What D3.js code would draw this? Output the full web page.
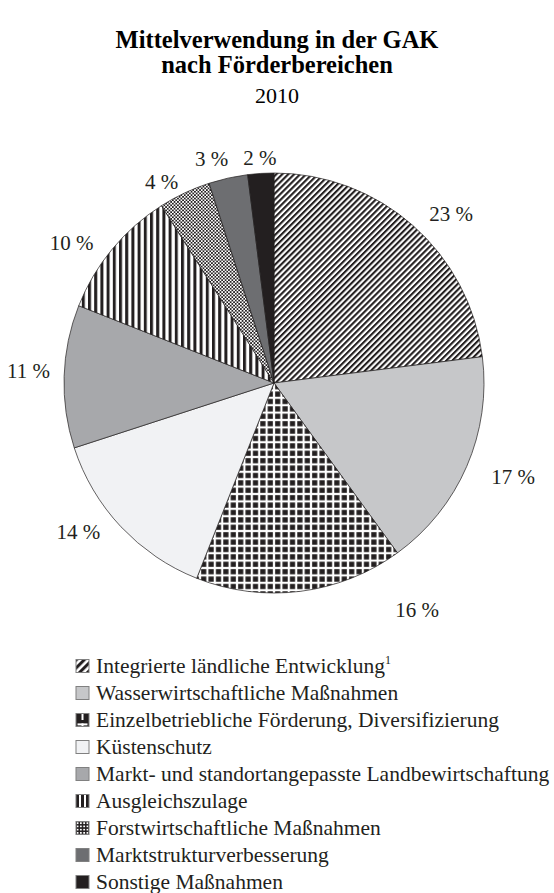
<!DOCTYPE html>
<html>
<head>
<meta charset="utf-8">
<script src="https://cdn.jsdelivr.net/npm/d3@7"></script>
<style>
  body { margin: 0; background: #fff; }
  svg { display: block; font-family: "Liberation Serif", "Times New Roman", serif; }
</style>
</head>
<body>
<script>
// --- data ---
var categories = [
  'Integrierte ländliche Entwicklung',
  'Wasserwirtschaftliche Maßnahmen',
  'Einzelbetriebliche Förderung, Diversifizierung',
  'Küstenschutz',
  'Markt- und standortangepasste Landbewirtschaftung',
  'Ausgleichszulage',
  'Forstwirtschaftliche Maßnahmen',
  'Marktstrukturverbesserung',
  'Sonstige Maßnahmen'
];
var shares = [23, 17, 16, 14, 11, 10, 4, 3, 2];
var footnotes = ['1', '', '', '', '', '', '', '', ''];

// --- styles ---
var sliceFills = ['url(#hatch)', '#c6c7c9', 'url(#grid)', '#f1f2f4', '#a7a8ab',
                  'url(#vstripe)', 'url(#check)', '#6d6e71', '#231f20'];
var iconFills = ['url(#hatchIcon)', '#c6c7c9', 'url(#crossIcon)', '#f1f2f4', '#a7a8ab',
                 'url(#stripeIcon)', 'url(#checkIcon)', '#6d6e71', '#231f20'];
// label nudges: extra angle (deg) and extra distance (px) off the slice middle
var labelNudge = [[5, 0], [-2, 10], [-25, 27], [6, 0], [1, 0], [-5, 0], [-4, -8], [-3, -3], [0, -7]];

var width = 554, height = 893;
var cx = 274, cy = 383, radius = 210;
var ink = '#231f20';

var svg = d3.select('body').append('svg')
    .attr('width', width)
    .attr('height', height);

var defs = svg.append('defs');

var makePattern = function (id, size, transform) {
  var p = defs.append('pattern')
      .attr('id', id)
      .attr('patternUnits', 'userSpaceOnUse')
      .attr('width', size)
      .attr('height', size);
  if (transform) p.attr('patternTransform', transform);
  return p;
};

// pie patterns
var p = makePattern('hatch', 4.2, 'rotate(45)');
p.append('rect').attr('width', 4.2).attr('height', 4.2).attr('fill', '#fff');
p.append('rect').attr('width', 2.1).attr('height', 4.2).attr('fill', ink);

p = makePattern('grid', 7.4);
p.append('rect').attr('width', 7.4).attr('height', 7.4).attr('fill', '#fff');
p.append('rect').attr('x', 1.1).attr('y', 1.1).attr('width', 5.2).attr('height', 5.2).attr('fill', ink);

p = makePattern('vstripe', 6.2);
p.append('rect').attr('width', 6.2).attr('height', 6.2).attr('fill', '#fff');
p.append('rect').attr('width', 3).attr('height', 6.2).attr('fill', ink);

p = makePattern('check', 3.4);
p.append('rect').attr('width', 3.4).attr('height', 3.4).attr('fill', '#fff');
p.append('rect').attr('width', 1.7).attr('height', 1.7).attr('fill', ink);
p.append('rect').attr('x', 1.7).attr('y', 1.7).attr('width', 1.7).attr('height', 1.7).attr('fill', ink);

// legend icon patterns (icon space 0..13)
p = makePattern('hatchIcon', 5.6, 'rotate(45)');
p.append('rect').attr('width', 5.6).attr('height', 5.6).attr('fill', '#fff');
p.append('rect').attr('width', 3).attr('height', 5.6).attr('fill', ink);

p = makePattern('crossIcon', 13);
p.append('rect').attr('width', 13).attr('height', 13).attr('fill', ink);
p.append('rect').attr('x', 1.5).attr('y', 3.4).attr('width', 10).attr('height', 2).attr('fill', '#fff');
p.append('rect').attr('x', 5.5).attr('y', 3.4).attr('width', 2).attr('height', 9.6).attr('fill', '#fff');

p = makePattern('stripeIcon', 13);
p.append('rect').attr('width', 13).attr('height', 13).attr('fill', '#fff');
[0, 5, 10].forEach(function (x) {
  p.append('rect').attr('x', x).attr('width', 3).attr('height', 13).attr('fill', ink);
});

p = makePattern('checkIcon', 3.25);
p.append('rect').attr('width', 3.25).attr('height', 3.25).attr('fill', ink);
p.append('rect').attr('x', 0.8).attr('y', 0.8).attr('width', 1.7).attr('height', 1.7).attr('fill', '#fff');

// --- title ---
svg.append('text')
    .attr('x', width / 2).attr('y', 48)
    .attr('text-anchor', 'middle')
    .style('font-size', '24.5px').style('font-weight', 'bold')
    .text('Mittelverwendung in der GAK');
svg.append('text')
    .attr('x', width / 2).attr('y', 73)
    .attr('text-anchor', 'middle')
    .style('font-size', '24.5px').style('font-weight', 'bold')
    .text('nach Förderbereichen');
svg.append('text')
    .attr('x', width / 2).attr('y', 103)
    .attr('text-anchor', 'middle')
    .style('font-size', '22px')
    .text('2010');

// --- pie ---
var rows = categories.map(function (c, i) { return { name: c, share: shares[i], i: i }; });
var pie = d3.pie().sort(null).value(function (d) { return d.share; });
var arc = d3.arc().innerRadius(0).outerRadius(radius);
var arcs = pie(rows);

var g = svg.append('g').attr('transform', 'translate(' + cx + ',' + cy + ')');

g.selectAll('path.slice')
  .data(arcs)
  .join('path')
    .attr('class', 'slice')
    .attr('d', arc)
    .attr('fill', function (d) { return sliceFills[d.data.i]; })
    .attr('stroke', ink)
    .attr('stroke-width', 0.7);

// percentage labels, pushed just outside the rim
var labels = g.selectAll('text.pct')
  .data(arcs)
  .join('text')
    .attr('class', 'pct')
    .attr('text-anchor', 'middle')
    .style('font-size', '21px')
    .attr('fill', ink)
    .text(function (d) { return d.data.share + ' %'; });

labels.each(function (d) {
  var n = labelNudge[d.data.i];
  var a = (d.startAngle + d.endAngle) / 2 + n[0] * Math.PI / 180;
  var bb = this.getBBox();
  var sx = Math.sin(a), sy = -Math.cos(a);
  var ext = Math.abs(sx) * bb.width / 2 + Math.abs(sy) * 7;
  var dist = radius + 14 + ext + n[1];
  d3.select(this)
      .attr('x', sx * dist)
      .attr('y', sy * dist + 7);
});

// --- legend ---
var legendTop = 666, rowStep = 27, iconX = 76, iconSize = 13, textX = 96;

var items = svg.append('g').selectAll('g.item')
  .data(rows)
  .join('g')
    .attr('class', 'item')
    .attr('transform', function (d) {
      return 'translate(' + iconX + ',' + (legendTop + d.i * rowStep) + ')';
    });

items.append('rect')
    .attr('x', 0).attr('y', -iconSize / 2)
    .attr('width', iconSize).attr('height', iconSize)
    .attr('fill', function (d) { return iconFills[d.i]; })
    .attr('stroke', '#808080')
    .attr('stroke-width', 1);

var legendText = items.append('text')
    .attr('x', textX - iconX).attr('y', 7)
    .style('font-size', '21.5px')
    .attr('fill', ink)
    .text(function (d) { return d.name; });

legendText.filter(function (d) { return footnotes[d.i]; })
  .append('tspan')
    .attr('dy', -9)
    .attr('fill', ink)
    .style('font-size', '12px')
    .text(function (d) { return footnotes[d.i]; });
</script>
</body>
</html>
